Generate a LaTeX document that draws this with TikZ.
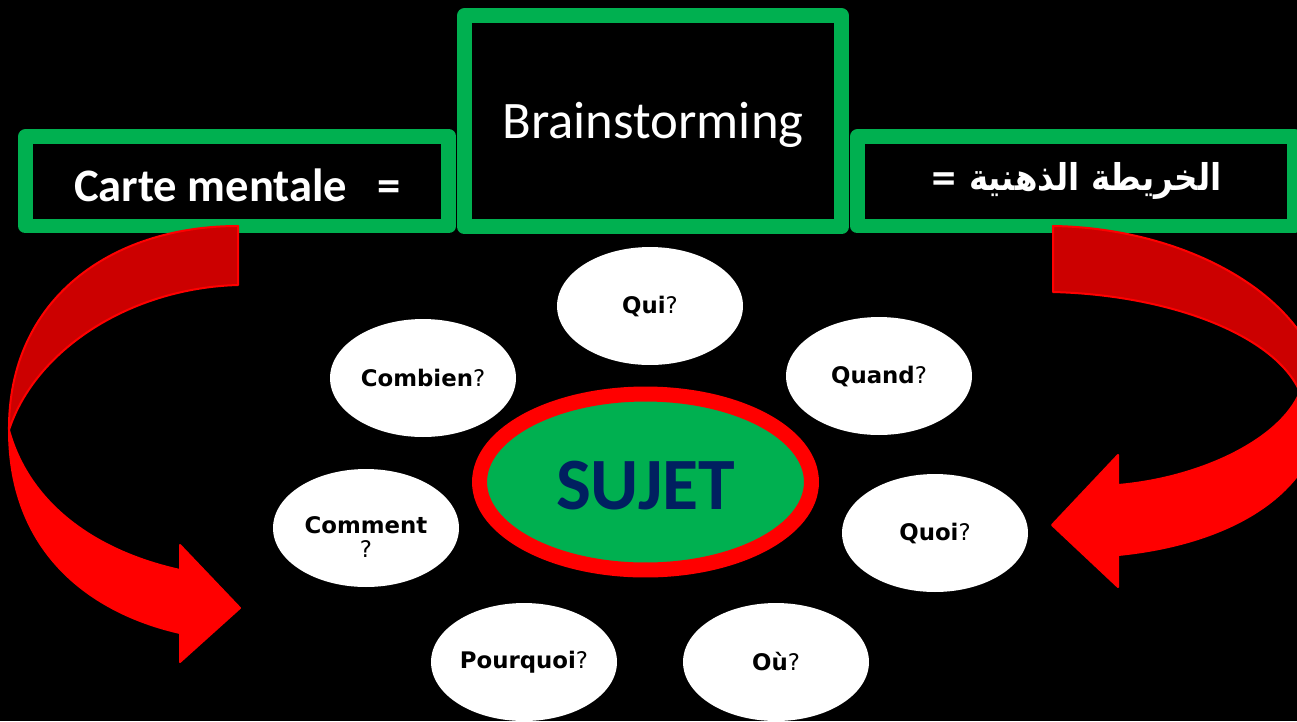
\documentclass[tikz,border=0pt]{standalone}
\usepackage{fontspec}
\setmainfont{Carlito}
\newfontfamily\arabicfont[Script=Arabic]{DejaVu Sans}
\newfontfamily\qfont{DejaVu Sans}
\TeXXeTstate=1
\usetikzlibrary{shapes.geometric}
\definecolor{boxgreen}{HTML}{00B050}
\definecolor{arrowred}{HTML}{FF0000}
\definecolor{backred}{HTML}{CC0000}
\definecolor{sujetblue}{HTML}{002060}

\begin{document}
\begin{tikzpicture}[x=0.02cm,y=-0.02cm,
	titlebox/.style={draw=boxgreen,line width=0.3cm,line join=round,fill=black,text=white,inner sep=0pt,minimum height=1.79cm},
	qbubble/.style={ellipse,fill=white,inner sep=0pt,minimum width=3.72cm,minimum height=2.36cm,align=center,font=\qfont\fontsize{13}{13.5}\selectfont},
	twistpart/.style={draw=arrowred,line width=0.04cm,line join=round}]
			\fill[black] (0,0) rectangle (1297,721);
			\clip (0,0) rectangle (1297,721);
			
			% the three titles
			\node[titlebox,minimum width=8.47cm,text height=0.82cm,text depth=0cm,font=\bfseries\fontsize{26.5}{30}\selectfont] (carte) at (237.25,181.25) {Carte mentale\hspace{0.6cm}=};
			\node[titlebox,minimum width=7.54cm,minimum height=4.23cm,text height=0.9cm,text depth=0.2cm,font=\fontsize{30}{34}\selectfont] (brain) at (653,121.25) {Brainstorming};
			\node[titlebox,minimum width=8.74cm,font=\arabicfont\bfseries\fontsize{21}{25}\selectfont] (khareeta) at (1076,181.25) {\scalebox{0.88}[1]{\beginR الخريطة الذهنية =\endR}};
			
			% left curved arrow
			\filldraw[twistpart,fill=backred] (238,226) -- (238,285) .. controls (130,288) and (35,350) .. (9,430) .. controls (8,300) and (110,226) .. (238,226) -- cycle;
			\filldraw[twistpart,fill=arrowred] (9,430) .. controls (9,560) and (100,615) .. (180,633) -- (180,662) -- (240,608) -- (180,545) -- (180,570) .. controls (90,550) and (28,500) .. (9,430) -- cycle;
			
			% right curved arrow
			\filldraw[twistpart,fill=backred] (1053,226) -- (1053,292) .. controls (1170,295) and (1275,335) .. (1300,392) -- (1325,400) .. controls (1318,300) and (1190,228) .. (1053,226) -- cycle;
			\filldraw[twistpart,fill=arrowred] (1300,392) -- (1325,400) .. controls (1320,500) and (1220,545) .. (1118,555) -- (1118,587) -- (1052,525) -- (1118,455) -- (1118,485) .. controls (1200,478) and (1280,440) .. (1300,392) -- cycle;
			
			% the questions
			\node[qbubble] (qui) at (650,306) {\textbf{Qui}?};
			\node[qbubble] (quand) at (879,376) {\textbf{Quand}?};
			\node[qbubble] (combien) at (423,378) {\textbf{Combien}?};
			\node[qbubble,text height=1.18cm] (comment) at (366,528) {\textbf{Comment}\\?};
			\node[qbubble] (quoi) at (935,533) {\textbf{Quoi}?};
			\node[qbubble] (pourquoi) at (524,662) {\textbf{Pourquoi}?};
			\node[qbubble] (ou) at (776,662) {\textbf{Où}?};
			
			\node[ellipse,draw=arrowred,line width=0.3cm,fill=boxgreen,inner sep=0pt,minimum width=6.64cm,minimum height=3.52cm,text height=1.08cm,text depth=0cm,text=sujetblue,font=\bfseries\fontsize{42}{46}\selectfont] (sujet) at (645.5,482) {SUJET};
\end{tikzpicture}
\end{document}
